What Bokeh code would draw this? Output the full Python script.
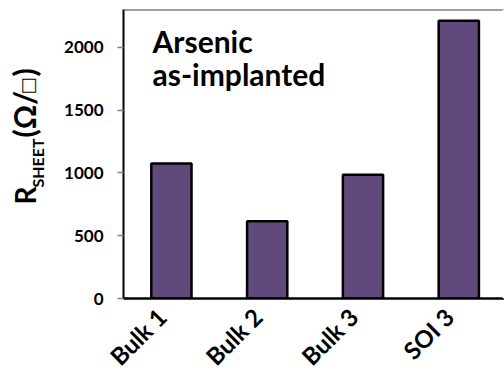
import math
from bokeh.plotting import figure
from bokeh.layouts import row
from bokeh.models import Range1d, FixedTicker, Label, Span
from bokeh.embed import file_html
from bokeh.resources import INLINE

categories = ["Bulk 1", "Bulk 2", "Bulk 3", "SOI 3"]
rsheet = [1075, 615, 985, 2210]
y_ticks = [0, 500, 1000, 1500, 2000]

xs = list(range(1, len(categories) + 1))
FONT = "Lato"
X_START, X_END = 0.5, 4.477

# ---- narrow panel holding the y-axis title (with subscript) ----
t = figure(width=50, height=390, frame_width=50, frame_height=390,
           x_range=Range1d(0, 50), y_range=Range1d(0, 390),
           output_backend="svg", toolbar_location=None,
           x_axis_location=None, y_axis_location=None,
           min_border=0, min_border_left=0, min_border_right=0,
           min_border_top=0, min_border_bottom=0)
t.outline_line_color = None
t.xgrid.grid_line_color = None
t.ygrid.grid_line_color = None
tk = dict(x_units="screen", y_units="screen", angle=90, angle_units="deg",
          text_color="black", text_align="left", text_baseline="alphabetic")
t.add_layout(Label(x=24, y=195, text="R", text_font=FONT, text_font_style="bold",
                   text_font_size="28px", **tk))
t.add_layout(Label(x=37, y=212, text="SHEET", text_font=FONT, text_font_style="bold",
                   text_font_size="16px", **tk))
t.add_layout(Label(x=23, y=262, text="(Ω/", text_font=FONT, text_font_style="bold",
                   text_font_size="30px", **tk))
t.add_layout(Label(x=27, y=305, text="□", text_font="DejaVu Sans", text_font_style="normal",
                   text_font_size="18px", **tk))
t.add_layout(Label(x=23, y=323, text=")", text_font=FONT, text_font_style="bold",
                   text_font_size="30px", **tk))

# ---- main chart ----
p = figure(width=454, height=390, frame_width=381, frame_height=289,
           x_range=Range1d(X_START, X_END), y_range=Range1d(0, 2300),
           output_backend="svg", toolbar_location=None,
           min_border_left=73, min_border_right=0, min_border_top=9, min_border_bottom=92)
p.outline_line_color = None
p.xgrid.grid_line_color = None
p.ygrid.grid_line_color = None

p.vbar(x=xs, top=rsheet, width=0.42, fill_color="#604A7B", line_color="black", line_width=2.5)

p.add_layout(Span(location=2300, dimension="width", line_color="#404040", line_width=2))
# the original's plot area runs off the right edge: hide the frame's right edge
p.add_layout(Span(location=X_END, dimension="height", line_color="white", line_width=4))

# x axis (labels nudged left like the original's rotated labels)
label_ticks = [x - 0.1 for x in xs]
p.xaxis.ticker = FixedTicker(ticks=label_ticks)
p.xaxis.major_label_overrides = {x: c for x, c in zip(label_ticks, categories)}
p.xaxis.major_label_orientation = math.pi / 4
p.xaxis.major_tick_line_color = None
p.xaxis.minor_tick_line_color = None
p.xaxis.axis_line_color = "black"
p.xaxis.axis_line_width = 2.5
p.xaxis.major_label_text_font = FONT
p.xaxis.major_label_text_font_style = "bold"
p.xaxis.major_label_text_font_size = "24px"
p.xaxis.major_label_text_color = "black"
p.xaxis.major_label_standoff = 8

# y axis
p.yaxis.ticker = FixedTicker(ticks=y_ticks)
p.yaxis.minor_tick_line_color = None
p.yaxis.major_tick_in = 0
p.yaxis.major_tick_out = 6
p.yaxis.major_tick_line_color = "#808080"
p.yaxis.major_tick_line_width = 1.5
p.yaxis.axis_line_color = "black"
p.yaxis.axis_line_width = 2
p.yaxis.major_label_text_font = FONT
p.yaxis.major_label_text_font_style = "bold"
p.yaxis.major_label_text_font_size = "17px"
p.yaxis.major_label_text_color = "black"
p.yaxis.major_label_standoff = 14

# annotation
ann_kw = dict(x_units="screen", y_units="screen", text_font=FONT, text_font_style="bold",
              text_color="black", text_font_size="30px", text_align="left",
              text_baseline="alphabetic")
p.add_layout(Label(x=29, y=258, text="Arsenic", **ann_kw))
p.add_layout(Label(x=29, y=225, text="as-implanted", **ann_kw))

open("out.html", "w").write(file_html(row(t, p), INLINE))
